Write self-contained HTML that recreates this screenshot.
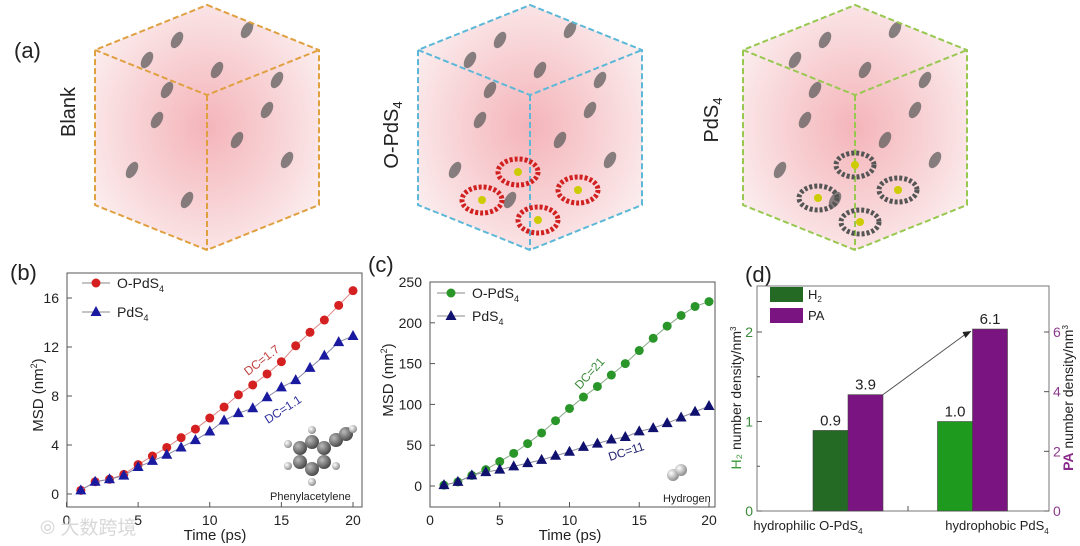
<!DOCTYPE html>
<html><head><meta charset="utf-8"><style>
body{margin:0;background:#fff;}
svg{display:block;font-family:"Liberation Sans","Noto Sans CJK SC",sans-serif;}
</style></head><body>
<svg id="fig" width="1080" height="546" viewBox="0 0 1080 546">
<defs>
<radialGradient id="pink" cx="50%" cy="50%" r="60%"><stop offset="0" stop-color="#f2a7ad"/><stop offset="0.6" stop-color="#f7cfd2"/><stop offset="1" stop-color="#fbeced"/></radialGradient>
<radialGradient id="ball" cx="35%" cy="35%" r="70%"><stop offset="0" stop-color="#fff"/><stop offset="1" stop-color="#888"/></radialGradient>
<radialGradient id="cball" cx="35%" cy="35%" r="70%"><stop offset="0" stop-color="#bbb"/><stop offset="1" stop-color="#444"/></radialGradient>
</defs>
<g id="panel-a"></g>
<g id="panel-b"></g>
<g id="panel-c"></g>
<g id="panel-d"></g>
<text x="40" y="534" font-size="19" fill="#d8d8d8">⦾ 大数跨境</text>
</svg>
<script>
const NS="http://www.w3.org/2000/svg";
function mk(p,t,a,txt){const e=document.createElementNS(NS,t);for(const k in a)e.setAttribute(k,a[k]);if(txt!==undefined)e.textContent=txt;p.appendChild(e);return e;}

// ---------- Panel b data ----------
const bTimes=[1,2,3,4,5,6,7,8,9,10,11,12,13,14,15,16,17,18,19,20];
const bOPdS4=[0.3,1.0,1.2,1.6,2.4,3.1,3.8,4.6,5.3,6.2,7.1,8.1,8.9,9.8,10.8,12.1,13.2,14.2,15.4,16.6];
const bPdS4=[0.3,1.0,1.2,1.5,2.2,2.7,3.2,3.8,4.4,5.1,6.0,6.6,7.0,7.9,8.7,9.3,10.3,11.3,12.4,12.9];
const bXTicks=[0,5,10,15,20];
const bYTicks=[0,4,8,12,16];
// ---------- Panel c data ----------
const cTimes=[1,2,3,4,5,6,7,8,9,10,11,12,13,14,15,16,17,18,19,20];
const cOPdS4=[1,5,13,20,30,40,52,65,80,95,109,122,136,150,166,181,196,209,220,226];
const cPdS4=[1,5,13,17,20,24,28,32,37,42,48,52,57,60,67,71,77,84,91,98];
const cXTicks=[0,5,10,15,20];
const cYTicks=[0,50,100,150,200,250];
// ---------- Panel d data ----------
const dCategories=["hydrophilic O-PdS4","hydrophobic PdS4"];
const dH2=[0.9,1.0];
const dPA=[3.9,6.1];
const dH2Labels=["0.9","1.0"];
const dPALabels=["3.9","6.1"];
const dLeftTicks=[0,1,2];
const dRightTicks=[0,2,4,6];

// ---------- Panel a ----------
const pa=document.getElementById('panel-a');
const lab=mk(pa,'text',{x:14,y:58,'font-size':22,fill:'#222'},'(a)');

function cube(cx,color,name,label,lx,ly){
  const g=mk(pa,'g',{});
  
  const L=cx-112,R=cx+112,T=5,B=250,u=50,d=205,c=95;
  mk(g,'polygon',{points:`${cx},${T} ${R},${u} ${R},${d} ${cx},${B} ${L},${d} ${L},${u}`,fill:'url(#pink)',opacity:0.85});
  const rnd=[[-60,60],[-30,40],[40,30],[70,80],[-50,120],[30,140],[80,160],[-20,200],[60,110],[-75,170],[10,70],[-40,90]];
  rnd.forEach(p=>mk(g,'ellipse',{cx:cx+p[0],cy:p[1],rx:5,ry:9,fill:'#555',opacity:0.7,transform:`rotate(30 ${cx+p[0]} ${p[1]})`}));
  const st={stroke:color,'stroke-width':2,'stroke-dasharray':'6 3',fill:'none'};
  mk(g,'polygon',Object.assign({points:`${cx},${T} ${R},${u} ${R},${d} ${cx},${B} ${L},${d} ${L},${u}`},st));
  mk(g,'polyline',Object.assign({points:`${L},${u} ${cx},${c} ${R},${u}`},st));
  mk(g,'line',Object.assign({x1:cx,y1:c,x2:cx,y2:B},st));
  const t=mk(pa,'text',{x:lx,y:ly,'font-size':20,fill:'#222','text-anchor':'middle',transform:`rotate(-90 ${lx} ${ly})`});
  t.innerHTML=label;
  
  return g;
}
cube(207,'#e0a040','blank-cube','Blank',75,112);
const g2=cube(530,'#5bb8d8','o-pds4-cube','O-PdS<tspan font-size="13" dy="4">4</tspan>',398,135);
[[518,172],[578,190],[482,200],[538,220]].forEach(p=>{mk(g2,'ellipse',{cx:p[0],cy:p[1],rx:20,ry:13,fill:'none',stroke:'#d02020','stroke-width':5,'stroke-dasharray':'3 2'});mk(g2,'circle',{cx:p[0],cy:p[1],r:4,fill:'#cc0'});});
const g3=cube(855,'#98c850','pds4-cube','PdS<tspan font-size="13" dy="4">4</tspan>',718,120);
[[818,198],[898,190],[860,222],[855,165]].forEach(p=>{mk(g3,'ellipse',{cx:p[0],cy:p[1],rx:19,ry:12,fill:'none',stroke:'#555','stroke-width':5,'stroke-dasharray':'3 2'});mk(g3,'circle',{cx:p[0],cy:p[1],r:4,fill:'#cc0'});});

// ---------- line chart helper ----------
function lineChart(root,opt){
  const {box,xr,yr,xT,yT}=opt;
  const sx=v=>box.x0+(v-xr[0])/(xr[1]-xr[0])*(box.x1-box.x0);
  const sy=v=>box.y0-(v-yr[0])/(yr[1]-yr[0])*(box.y0-box.y1);
  const frame=mk(root,'rect',{x:box.l,y:box.t,width:box.r-box.l,height:box.b-box.t,fill:'none',stroke:'#555','stroke-width':1});
  
  xT.forEach(v=>{mk(root,'line',{x1:sx(v),x2:sx(v),y1:box.b,y2:box.b-5,stroke:'#555'});
    const t=mk(root,'text',{x:sx(v),y:box.b+18,'font-size':14,'text-anchor':'middle',fill:'#222'},String(v));
    });
  yT.forEach(v=>{mk(root,'line',{x1:box.l,x2:box.l+5,y1:sy(v),y2:sy(v),stroke:'#555'});
    const t=mk(root,'text',{x:box.l-8,y:sy(v)+5,'font-size':14,'text-anchor':'end',fill:'#222'},String(v));
    });
  opt.series.forEach(s=>{
    const g=mk(root,'g',{});
    
    mk(g,'polyline',{points:s.x.map((x,i)=>sx(x)+','+sy(s.y[i])).join(' '),fill:'none',stroke:s.line,'stroke-width':1});
    s.x.forEach((x,i)=>{
      let m;
      if(s.shape==='c') m=mk(g,'circle',{cx:sx(x),cy:sy(s.y[i]),r:4.5,fill:s.color});
      else {const X=sx(x),Y=sy(s.y[i]);m=mk(g,'polygon',{points:`${X},${Y-6} ${X+5.5},${Y+4} ${X-5.5},${Y+4}`,fill:s.color});}
      
    });
  });
  return {sx,sy};
}
function legendEntry(root,x,y,color,shape,name){
  const g=mk(root,'g',{});
  
  mk(g,'line',{x1:x,x2:x+28,y1:y,y2:y,stroke:'#888'});
  if(shape==='c')mk(g,'circle',{cx:x+14,cy:y,r:4.5,fill:color});
  else mk(g,'polygon',{points:`${x+14},${y-6} ${x+19.5},${y+4} ${x+8.5},${y+4}`,fill:color});
  const t=mk(g,'text',{x:x+35,y:y+5,'font-size':14,fill:'#222'});
  t.innerHTML=name==='o-pds4'?'O-PdS<tspan font-size="9" dy="4">4</tspan>':'PdS<tspan font-size="9" dy="4">4</tspan>';
}
function axisTitles(root,xx,xy,yx,yy,xt){
  const t=mk(root,'text',{x:xx,y:xy,'font-size':15,'text-anchor':'middle',fill:'#222'},xt);
  
  const y=mk(root,'text',{x:yx,y:yy,'font-size':15,'text-anchor':'middle',fill:'#222',transform:`rotate(-90 ${yx} ${yy})`});
  y.innerHTML='MSD (nm<tspan font-size="9" dy="-6">2</tspan><tspan dy="6">)</tspan>';
  
}

// ---------- Panel b ----------
const pb=document.getElementById('panel-b');
mk(pb,'text',{x:10,y:280,'font-size':22,fill:'#222'},'(b)');
lineChart(pb,{box:{l:67,r:362,t:273,b:507,x0:66.5,x1:353,y0:494,y1:298},xr:[0,20],yr:[0,16],xT:bXTicks,yT:bYTicks,
 series:[{name:'o-pds4-series',x:bTimes,y:bOPdS4,color:'#d42020',line:'#d88',shape:'c'},{name:'pds4-series',x:bTimes,y:bPdS4,color:'#1a1aa0',line:'#88a',shape:'t'}]});
legendEntry(pb,82,283,'#d42020','c','o-pds4');
legendEntry(pb,82,312,'#1a1aa0','t','pds4');
axisTitles(pb,215,540,43,395,'Time (ps)');
mk(pb,'text',{x:248,y:376,'font-size':12,fill:'#c04040',transform:'rotate(-38 248 376)'},'DC=1.7');
mk(pb,'text',{x:268,y:424,'font-size':12,fill:'#3030a0',transform:'rotate(-33 268 424)'},'DC=1.1');
(function(){const g=mk(pb,'g',{});
 [[300,448],[312,442],[324,448],[324,462],[312,469],[300,462],[336,440],[346,434]].forEach(p=>mk(g,'circle',{cx:p[0],cy:p[1],r:7,fill:'url(#cball)'}));
 [[288,444],[312,430],[336,466],[312,482],[288,466],[353,429]].forEach(p=>mk(g,'circle',{cx:p[0],cy:p[1],r:4,fill:'url(#ball)'}));})();
mk(pb,'text',{x:270,y:500,'font-size':11,fill:'#222'},'Phenylacetylene');

// ---------- Panel c ----------
const pc=document.getElementById('panel-c');
mk(pc,'text',{x:368,y:272,'font-size':22,fill:'#222'},'(c)');
lineChart(pc,{box:{l:430,r:715,t:282,b:507,x0:430,x1:709,y0:486,y1:282},xr:[0,20],yr:[0,250],xT:cXTicks,yT:cYTicks,
 series:[{name:'o-pds4-series',x:cTimes,y:cOPdS4,color:'#2a962a',line:'#8a8',shape:'c'},{name:'pds4-series',x:cTimes,y:cPdS4,color:'#10106e',line:'#889',shape:'t'}]});
legendEntry(pc,437,293,'#2a962a','c','o-pds4');
legendEntry(pc,437,316,'#10106e','t','pds4');
axisTitles(pc,570,540,393,380,'Time (ps)');
mk(pc,'text',{x:580,y:390,'font-size':12,fill:'#3a8a3a',transform:'rotate(-48 580 390)'},'DC=21');
mk(pc,'text',{x:610,y:461,'font-size':12,fill:'#202070',transform:'rotate(-18 610 461)'},'DC=11');
mk(pc,'circle',{cx:673,cy:475,r:6,fill:'url(#ball)'});
mk(pc,'circle',{cx:681,cy:470,r:6,fill:'url(#ball)'});
mk(pc,'text',{x:663,y:502,'font-size':11,fill:'#222'},'Hydrogen');

// ---------- Panel d ----------
const pd=document.getElementById('panel-d');
mk(pd,'text',{x:745,y:282,'font-size':22,fill:'#222'},'(d)');
const dBox={l:757,r:1049,t:286,b:511};
const syL=v=>dBox.b-v*89.5, syR=v=>dBox.b-v*89.5/3;
const catX=i=>848+i*124.5;
mk(pd,'rect',{x:dBox.l,y:dBox.t,width:dBox.r-dBox.l,height:dBox.b-dBox.t,fill:'none',stroke:'#777'});
dLeftTicks.forEach(v=>{mk(pd,'line',{x1:dBox.l,x2:dBox.l+5,y1:syL(v),y2:syL(v),stroke:'#555'});const t=mk(pd,'text',{x:dBox.l-4,y:syL(v)+5,'font-size':14,'text-anchor':'end',fill:'#3a8a3a'},String(v));});
[0.5,1.5].forEach(v=>mk(pd,'line',{x1:dBox.l,x2:dBox.l+3,y1:syL(v),y2:syL(v),stroke:'#555'}));
dRightTicks.forEach(v=>{mk(pd,'line',{x1:dBox.r,x2:dBox.r-5,y1:syR(v),y2:syR(v),stroke:'#555'});const t=mk(pd,'text',{x:dBox.r+4,y:syR(v)+5,'font-size':14,fill:'#8a3a8a'},String(v));});
mk(pd,'line',{x1:908,x2:908,y1:dBox.b,y2:dBox.b-5,stroke:'#555'});
dCategories.forEach((c,i)=>{
  const x=catX(i);
  const h=mk(pd,'rect',{x:x-35,y:syL(dH2[i]),width:35,height:dBox.b-syL(dH2[i]),fill:i?'#1e9a1e':'#246a24',stroke:'#444','stroke-width':0.6});
  
  const p=mk(pd,'rect',{x:x,y:syR(dPA[i]),width:35,height:dBox.b-syR(dPA[i]),fill:'#7a1480',stroke:'#444','stroke-width':0.6});
  
  mk(pd,'text',{x:x-17.5,y:syL(dH2[i])-5,'font-size':15,'text-anchor':'middle',fill:'#222'},dH2Labels[i]);
  mk(pd,'text',{x:x+17.5,y:syR(dPA[i])-5,'font-size':15,'text-anchor':'middle',fill:'#222'},dPALabels[i]);
  const t=mk(pd,'text',{x:i?997:808,y:530,'font-size':13,'text-anchor':'middle',fill:'#222'});
  t.innerHTML=c.replace('PdS4','PdS<tspan font-size="8" dy="4">4</tspan>');
  
});
mk(pd,'line',{x1:catX(0)+35,y1:syR(dPA[0]),x2:catX(1)-4,y2:syR(dPA[1])+3,stroke:'#555','stroke-width':1});
mk(pd,'polygon',{points:`${catX(1)-1},${syR(dPA[1])+2} ${catX(1)-10},${syR(dPA[1])+3} ${catX(1)-7},${syR(dPA[1])+9}`,fill:'#222'});
const lg=mk(pd,'g',{});
mk(lg,'rect',{x:770,y:287,width:33,height:15,fill:'#246a24'});
mk(lg,'rect',{x:770,y:308,width:33,height:15,fill:'#7a1480'});
mk(lg,'text',{x:808,y:299,'font-size':13,fill:'#222'}).innerHTML='H<tspan font-size="8" dy="3">2</tspan>';
mk(lg,'text',{x:808,y:320,'font-size':13,fill:'#222'},'PA');
const yl=mk(pd,'text',{x:741,y:398,'font-size':14,'text-anchor':'middle',fill:'#222',transform:'rotate(-90 741 398)'});
yl.innerHTML='<tspan fill="#3a9a3a">H₂</tspan> number density/nm<tspan font-size="8" dy="-5">3</tspan>';

const yr=mk(pd,'text',{x:1073,y:398,'font-size':14,'text-anchor':'middle',fill:'#222',transform:'rotate(-90 1073 398)'});
yr.innerHTML='<tspan fill="#8a2a8a" font-weight="bold">PA</tspan> number density/nm<tspan font-size="8" dy="-5">3</tspan>';

</script>
</body></html>
